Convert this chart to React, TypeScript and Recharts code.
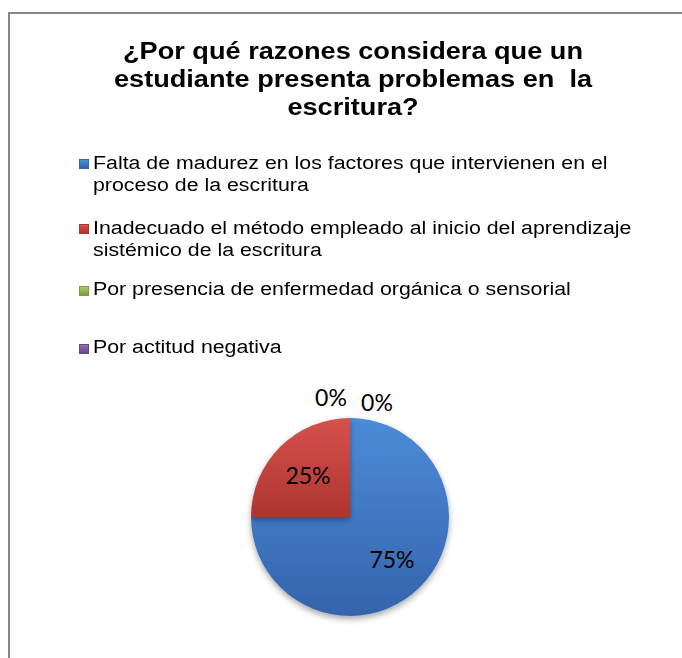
import React from 'react';
import { PieChart, Pie, Cell, Legend } from 'recharts';

const categories = [
  'Falta de madurez en los factores que intervienen en el proceso de la escritura',
  'Inadecuado el método empleado al inicio del aprendizaje sistémico de la escritura',
  'Por presencia de enfermedad orgánica o sensorial',
  'Por actitud negativa',
];
const values = [75, 25, 0, 0];
const colors = ['#3F7BC8', '#C8413C', '#9BBB59', '#7D5FA0'];
const lightColors = ['#4D8BD8', '#D6524D', '#AACB68', '#8E70B2'];
const darkColors = ['#3464AC', '#AE3430', '#7F9B45', '#634A84'];
const titleLines = ['¿Por qué razones considera que un', 'estudiante presenta problemas en\u00a0 la', 'escritura?'];

const data = categories.map((name, i) => ({ name, value: values[i] }));
const total = values.reduce((a, b) => a + b, 0);

const legendGaps = [0, 20.3, 16.7, 35.5];

const renderLegend = (props: any) => {
  const payload = [...(props.payload || [])].sort(
    (a: any, b: any) => categories.indexOf(a.value) - categories.indexOf(b.value)
  );
  return (
    <div style={{ fontFamily: '"Liberation Sans", Arial, sans-serif', fontSize: 18, lineHeight: '22.5px', color: '#000' }}>
      {payload.map((entry: any, k: number) => {
        const i = categories.indexOf(entry.value);
        return (
          <div key={k} style={{ position: 'relative', marginTop: legendGaps[k] || 0 }}>
            <span
              style={{
                position: 'absolute',
                left: 0,
                top: 7.5,
                width: 10,
                height: 10,
                boxSizing: 'border-box',
                background: `linear-gradient(${lightColors[i]}, ${darkColors[i]})`,
                border: `1px solid ${darkColors[i]}`,
              }}
            />
            <div style={{ marginLeft: 14, width: 470, transform: 'scaleX(1.185)', transformOrigin: 'left top' }}>
              {entry.value}
            </div>
          </div>
        );
      })}
    </div>
  );
};

const RAD = Math.PI / 180;
const renderLabel = (p: any) => {
  const { cx, cy, outerRadius, midAngle, value, index } = p;
  let x: number;
  let y: number;
  if (value === 0) {
    const zeroIdx = index - 2;
    x = cx + (zeroIdx === 0 ? -19 : 27);
    y = cy - outerRadius - (zeroIdx === 0 ? 21 : 16);
  } else {
    const r = outerRadius * 0.6;
    x = cx + r * Math.cos(-midAngle * RAD);
    y = cy + r * Math.sin(-midAngle * RAD);
  }
  return (
    <text
      x={x}
      y={y}
      textAnchor="middle"
      dominantBaseline="central"
      fill="#000"
      fontFamily="Lato, sans-serif"
      fontSize={23}
    >
      {`${Math.round((value / total) * 100)}%`}
    </text>
  );
};

export default function App() {
  return (
    <div style={{ position: 'absolute', left: 0, top: 0, width: 682, height: 658, background: '#fff', overflow: 'hidden' }}>
      <div
        style={{
          position: 'absolute',
          left: 8,
          top: 12,
          width: 720,
          height: 700,
          borderLeft: '2px solid #878787',
          borderTop: '2px solid #878787',
        }}
      />
      <div
        style={{
          position: 'absolute',
          left: 0,
          width: 706,
          top: 37.3,
          textAlign: 'center',
          fontFamily: '"Liberation Sans", Arial, sans-serif',
          fontWeight: 'bold',
          fontSize: 23,
          lineHeight: '28px',
          color: '#000',
          transform: 'scaleX(1.18)',
          transformOrigin: '353px 0',
        }}
      >
        {titleLines.map((l, i) => (
          <div key={i} style={{ whiteSpace: 'pre' }}>{l}</div>
        ))}
      </div>
      <div style={{ position: 'absolute', left: 0, top: 0 }}>
        <PieChart width={682} height={658} margin={{ top: 0, left: 0, right: 0, bottom: 0 }}>
          <defs>
            {colors.map((c, i) => (
              <linearGradient key={i} id={`grad${i}`} x1="0" y1="0" x2="0" y2="1">
                <stop offset="0%" stopColor={lightColors[i]} />
                <stop offset="100%" stopColor={darkColors[i]} />
              </linearGradient>
            ))}
            <filter id="pieShadow" x="-20%" y="-20%" width="140%" height="140%">
              <feDropShadow dx="0" dy="3" stdDeviation="3" floodColor="#000" floodOpacity="0.35" />
            </filter>
          </defs>
          <Pie
            data={data}
            dataKey="value"
            nameKey="name"
            cx={350}
            cy={517}
            outerRadius={99}
            startAngle={90}
            endAngle={-270}
            stroke="none"
            label={renderLabel}
            labelLine={false}
            isAnimationActive={false}
            style={{ filter: 'url(#pieShadow)' }}
          >
            {data.map((_, i) => (
              <Cell key={i} fill={`url(#grad${i}) ${colors[i]}`} stroke="none" />
            ))}
          </Pie>
          <Legend
            layout="vertical"
            align="right"
            verticalAlign="top"
            content={renderLegend}
            wrapperStyle={{ left: 79, top: 151.5, width: 580 }}
          />
        </PieChart>
      </div>
    </div>
  );
}
